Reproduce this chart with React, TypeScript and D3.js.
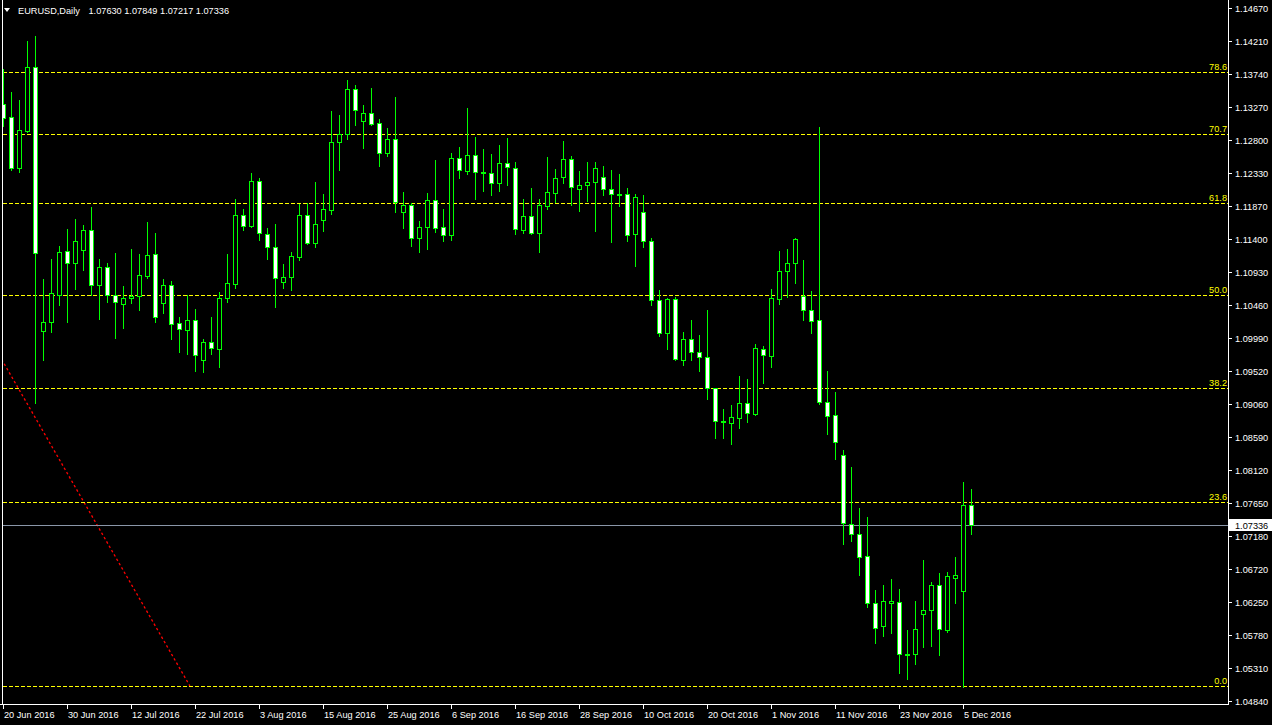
import React from "react";
import * as d3 from "d3";

const symbolTitle = "EURUSD,Daily";

const dateLabels = [
  "20 Jun 2016", "30 Jun 2016", "12 Jul 2016", "22 Jul 2016", "3 Aug 2016", "15 Aug 2016",
  "25 Aug 2016", "6 Sep 2016", "16 Sep 2016", "28 Sep 2016", "10 Oct 2016", "20 Oct 2016",
  "1 Nov 2016", "11 Nov 2016", "23 Nov 2016", "5 Dec 2016",
];
const barsPerDateLabel = 8;

const priceTicks = [
  1.1467, 1.1421, 1.1374, 1.1327, 1.128, 1.1233, 1.1187, 1.114, 1.1093, 1.1046, 1.0999,
  1.0952, 1.0906, 1.0859, 1.0812, 1.0765, 1.0718, 1.0672, 1.0625, 1.0578, 1.0531, 1.0484,
];

const opens = [
  1.13313, 1.13124, 1.12401, 1.12934, 1.13833, 1.10089, 1.10216, 1.10603, 1.11223, 1.11053,
  1.11238, 1.11521, 1.10741, 1.10996, 1.10599, 1.1048, 1.10557, 1.10585, 1.10877, 1.11181,
  1.10486, 1.10741, 1.10202, 1.10111, 1.10245, 1.09686, 1.09933, 1.09842, 1.10565, 1.10764,
  1.11734, 1.11586, 1.12216, 1.11464, 1.11284, 1.10792, 1.10863, 1.11147, 1.11734, 1.11345,
  1.11672, 1.11813, 1.1277, 1.12883, 1.13521, 1.13076, 1.13181, 1.13039, 1.12622, 1.12812,
  1.11785, 1.11876, 1.11408, 1.11564, 1.11947, 1.11564, 1.11459, 1.12543, 1.12367, 1.12585,
  1.1233, 1.1233, 1.12188, 1.12472, 1.12401, 1.11521, 1.1172, 1.11487, 1.1187, 1.12055,
  1.12282, 1.12528, 1.12111, 1.1216, 1.12202, 1.12273, 1.12103, 1.12036, 1.12032, 1.11464,
  1.11777, 1.11365, 1.10528, 1.1006, 1.10542, 1.09677, 1.09975, 1.09791, 1.0972, 1.0928,
  1.0882, 1.08792, 1.08863, 1.09067, 1.0892, 1.09833, 1.09742, 1.10551, 1.1094, 1.11053,
  1.10589, 1.10386, 1.10245, 1.09081, 1.08897, 1.0833, 1.07351, 1.07209, 1.06897, 1.0623,
  1.05912, 1.06239, 1.06244, 1.05511, 1.05507, 1.06074, 1.06131, 1.06486, 1.05856, 1.06593,
  1.064, 1.0763,
];

const highs = [
  1.13809, 1.13483, 1.13369, 1.14206, 1.14277, 1.1083, 1.11114, 1.11299, 1.1154, 1.11682,
  1.11596, 1.11852, 1.11114, 1.11057, 1.11199, 1.10731, 1.11256, 1.11185, 1.11639, 1.11483,
  1.1083, 1.10802, 1.10287, 1.10599, 1.10401, 1.09975, 1.10291, 1.10642, 1.11185, 1.11965,
  1.11823, 1.12334, 1.12263, 1.11554, 1.11611, 1.11043, 1.11213, 1.11894, 1.11904, 1.12206,
  1.12036, 1.13213, 1.13157, 1.13653, 1.13582, 1.13299, 1.13535, 1.131, 1.12972, 1.13412,
  1.12065, 1.11904, 1.11653, 1.1205, 1.12518, 1.11823, 1.12618, 1.12703, 1.13256, 1.12845,
  1.12674, 1.12604, 1.12731, 1.12831, 1.1249, 1.11965, 1.12121, 1.11965, 1.12561, 1.12391,
  1.12788, 1.12575, 1.12362, 1.1249, 1.1249, 1.12433, 1.12377, 1.1232, 1.12121, 1.12036,
  1.12022, 1.11408, 1.10674, 1.10557, 1.10571, 1.10074, 1.10245, 1.10032, 1.10391, 1.0928,
  1.08982, 1.09043, 1.09454, 1.09412, 1.09908, 1.09884, 1.10688, 1.11228, 1.11256, 1.11412,
  1.111, 1.1066, 1.12987, 1.09525, 1.09228, 1.08405, 1.08159, 1.07578, 1.07454, 1.06419,
  1.0649, 1.06575, 1.06433, 1.05851, 1.06263, 1.06844, 1.06532, 1.0666, 1.06674, 1.06887,
  1.07951, 1.07849,
];

const lows = [
  1.13001, 1.12377, 1.12352, 1.1292, 1.09076, 1.09681, 1.10083, 1.10462, 1.10225, 1.10693,
  1.10962, 1.10603, 1.10267, 1.10508, 1.09998, 1.1014, 1.10494, 1.10395, 1.10849, 1.10225,
  1.10352, 1.09984, 1.09799, 1.09771, 1.0953, 1.09507, 1.09771, 1.09586, 1.10508, 1.10707,
  1.11525, 1.11564, 1.11388, 1.11118, 1.10437, 1.10707, 1.10674, 1.11104, 1.11331, 1.11289,
  1.11515, 1.11757, 1.12381, 1.12821, 1.13019, 1.12693, 1.13015, 1.12437, 1.12579, 1.11785,
  1.11558, 1.11303, 1.11218, 1.1126, 1.11493, 1.11374, 1.11384, 1.12267, 1.12324, 1.11969,
  1.12083, 1.12026, 1.12083, 1.12168, 1.11473, 1.11487, 1.11473, 1.11213, 1.11828, 1.11927,
  1.12196, 1.11884, 1.11799, 1.11941, 1.11515, 1.12026, 1.1136, 1.1187, 1.11374, 1.11019,
  1.11289, 1.10466, 1.10026, 1.09842, 1.09681, 1.09611, 1.09686, 1.0953, 1.09132, 1.08579,
  1.08579, 1.0849, 1.08721, 1.08806, 1.08901, 1.09351, 1.09586, 1.1048, 1.10579, 1.10778,
  1.10249, 1.10069, 1.09053, 1.08636, 1.08281, 1.07076, 1.07118, 1.06636, 1.06182, 1.05671,
  1.05771, 1.05813, 1.05246, 1.05161, 1.05373, 1.05615, 1.05629, 1.05501, 1.05827, 1.06239,
  1.05039, 1.07217,
];

const closes = [
  1.1311, 1.12401, 1.1294, 1.13833, 1.11195, 1.10216, 1.10628, 1.11209, 1.11053, 1.11365,
  1.11521, 1.10741, 1.10996, 1.10599, 1.105, 1.10557, 1.10589, 1.10883, 1.11167, 1.10287,
  1.10741, 1.10188, 1.10117, 1.10245, 1.09748, 1.09933, 1.09847, 1.10557, 1.10769, 1.11734,
  1.11586, 1.12216, 1.11479, 1.1128, 1.1084, 1.10859, 1.11152, 1.11734, 1.11345, 1.11606,
  1.11819, 1.1277, 1.12887, 1.13521, 1.13223, 1.13181, 1.13025, 1.12613, 1.12812, 1.11927,
  1.11876, 1.11408, 1.11564, 1.11947, 1.1155, 1.11459, 1.12543, 1.12372, 1.12585, 1.12344,
  1.12348, 1.12188, 1.12472, 1.12415, 1.11535, 1.1172, 1.11487, 1.11876, 1.1206, 1.12259,
  1.12528, 1.12131, 1.1216, 1.12202, 1.12401, 1.12103, 1.12032, 1.12032, 1.1145, 1.11989,
  1.11365, 1.10528, 1.1006, 1.10542, 1.097, 1.09975, 1.09791, 1.0972, 1.0928, 1.08812,
  1.088, 1.08869, 1.09067, 1.08925, 1.09847, 1.09748, 1.10557, 1.1094, 1.11053, 1.11394,
  1.10386, 1.1023, 1.09081, 1.08883, 1.08522, 1.07365, 1.07209, 1.06891, 1.0623, 1.05876,
  1.06259, 1.06263, 1.05507, 1.05507, 1.05861, 1.06135, 1.06486, 1.05861, 1.06613, 1.06627,
  1.0762, 1.07336,
];

// Fibonacci retracement (anchors in bar index / price)
const fibLevels = [0, 23.6, 38.2, 50.0, 61.8, 70.7, 78.6];
const fibLowPrice = 1.05057;
const fibHighPrice = 1.16141;
const fibLowBar = 23.3;
const fibHighBar = -33.0;

const W = 1272;
const H = 725;
const FONT = "'Liberation Sans', Arial, sans-serif";
const FS = 9.2;

export default function App() {
  const n = opens.length;
  const x = d3.scaleLinear().domain([0, 1]).range([3.5, 11.5]);
  const y = d3.scaleLinear().domain([1.0484, 1.1467]).range([701.3, 8.3]);
  const snap = (v: number) => Math.round(v) + 0.5;

  const plotLeft = 2.5;
  const axisX = 1228.5;
  const axisY = 704.5;

  const lastIdx = n - 1;
  const headerVals = [opens[lastIdx], highs[lastIdx], lows[lastIdx], closes[lastIdx]];
  const bid = closes[lastIdx];
  const bidY = snap(y(bid));

  const fibPrice = (lvl: number) => fibLowPrice + (fibHighPrice - fibLowPrice) * (lvl / 100);

  return (
    <svg
      width={W}
      height={H}
      style={{ position: "absolute", left: 0, top: 0, background: "#000", display: "block" }}
      fontFamily={FONT}
    >
      <defs>
        <clipPath id="plot">
          <rect x={3} y={0} width={axisX - 3.5} height={axisY} />
        </clipPath>
      </defs>
      <rect x={0} y={0} width={W} height={H} fill="#000" />

      <g clipPath="url(#plot)">
        {/* fib trend line */}
        <line
          x1={x(fibHighBar)}
          y1={y(fibHighPrice)}
          x2={x(fibLowBar)}
          y2={y(fibLowPrice)}
          stroke="#ff0000"
          strokeWidth={1.3}
          strokeDasharray="2.5,2.5"
        />
        {/* fib levels */}
        {fibLevels.map((lvl) => {
          const yy = snap(y(fibPrice(lvl)));
          return (
            <line key={lvl} x1={3} x2={axisX} y1={yy} y2={yy} stroke="#ffff00" strokeWidth={1} strokeDasharray="4,2" shapeRendering="crispEdges" />
          );
        })}
        {/* bid line */}
        <line x1={0} x2={axisX} y1={bidY} y2={bidY} stroke="#8a96a8" strokeWidth={1} shapeRendering="crispEdges" />

        {/* candles */}
        {opens.map((o, i) => {
          const c = closes[i];
          const cx = x(i);
          const yh = Math.round(y(highs[i]));
          const yl = Math.round(y(lows[i]));
          const top = snap(y(Math.max(o, c)));
          let bot = snap(y(Math.min(o, c)));
          if (bot - top < 1) bot = top + 1;
          const bull = c > o;
          return (
            <g key={i} shapeRendering="crispEdges">
              <line x1={cx} x2={cx} y1={yh} y2={yl + 1} stroke="#00ff00" strokeWidth={1} />
              <rect x={cx - 2} y={top} width={4} height={bot - top} fill={bull ? "#000" : "#fff"} stroke="#00ff00" strokeWidth={1} />
            </g>
          );
        })}
      </g>

      {/* fib labels */}
      {fibLevels.map((lvl) => {
        const yy = snap(y(fibPrice(lvl)));
        return (
          <text key={"fl" + lvl} x={axisX - 1.5} y={yy - 2.5} textAnchor="end" fill="#ffff00" fontSize={FS}>
            {lvl.toFixed(1)}
          </text>
        );
      })}

      {/* frame */}
      <line x1={plotLeft} x2={plotLeft} y1={0} y2={axisY} stroke="#fff" shapeRendering="crispEdges" />
      <line x1={axisX} x2={axisX} y1={0} y2={axisY} stroke="#fff" shapeRendering="crispEdges" />
      <line x1={0} x2={axisX} y1={axisY} y2={axisY} stroke="#fff" shapeRendering="crispEdges" />

      {/* price axis */}
      {priceTicks.map((p) => {
        const yy = snap(y(p));
        return (
          <g key={"pt" + p}>
            <line x1={axisX} x2={axisX + 3} y1={yy} y2={yy} stroke="#fff" shapeRendering="crispEdges" />
            <text x={1235} y={yy} dy="0.35em" fill="#fff" fontSize={FS}>
              {p.toFixed(5)}
            </text>
          </g>
        );
      })}
      {/* bid label */}
      <rect x={axisX + 0.5} y={bidY - 6.5} width={W - axisX} height={12} fill="#fff" />
      <text x={1235} y={bidY} dy="0.35em" fill="#000" fontSize={FS}>
        {bid.toFixed(5)}
      </text>

      {/* date axis */}
      {dateLabels.map((d, k) => {
        const xx = x(k * barsPerDateLabel);
        return (
          <g key={d}>
            <line x1={xx} x2={xx} y1={axisY} y2={axisY + 4} stroke="#fff" shapeRendering="crispEdges" />
            <text x={xx + 0.5} y={718} fill="#fff" fontSize={FS}>
              {d}
            </text>
          </g>
        );
      })}

      {/* header */}
      <path d="M4,8 L10,8 L7,12 Z" fill="#fff" />
      <text x={18} y={14} fill="#fff" fontSize={FS}>
        {symbolTitle}
      </text>
      <text x={88.5} y={14} fill="#fff" fontSize={FS} style={{ whiteSpace: "pre" }}>
        {headerVals.map((v) => v.toFixed(5)).join(" ")}
      </text>
    </svg>
  );
}
